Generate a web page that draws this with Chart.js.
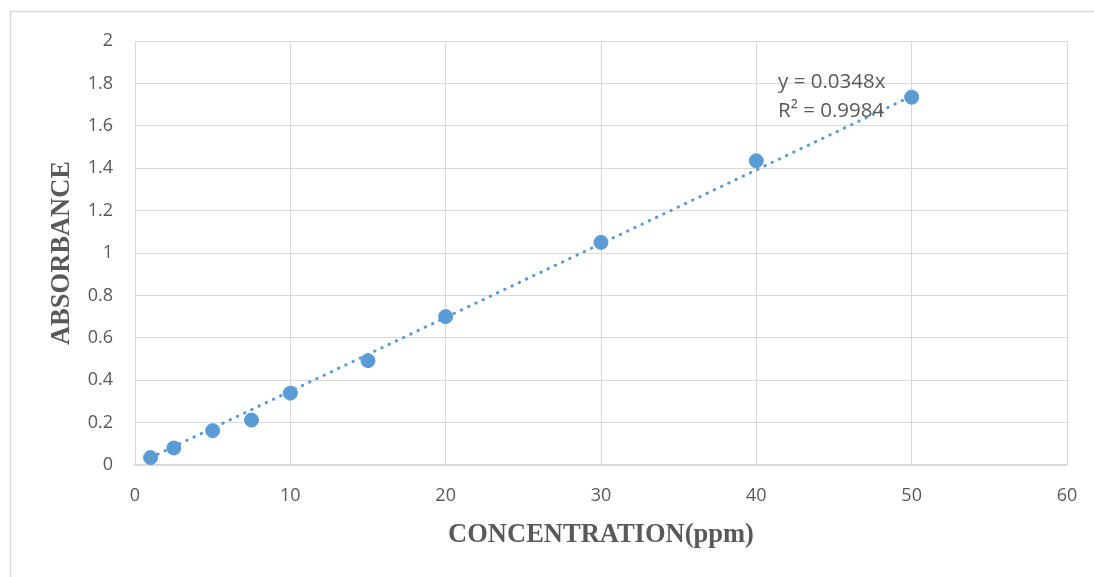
<!DOCTYPE html>
<html>
<head>
<meta charset="utf-8">
<script src="https://cdn.jsdelivr.net/npm/chart.js@4"></script>
<style>
  body { margin: 0; background: #fff; }
  #wrap { width: 1094px; height: 577px; }
</style>
</head>
<body>
<div id="wrap"><canvas id="chart" width="1094" height="577"></canvas></div>
<script>
// Data
const concentration = [1, 2.5, 5, 7.5, 10, 15, 20, 30, 40, 50];
const absorbance = [0.035, 0.08, 0.162, 0.212, 0.339, 0.492, 0.70, 1.05, 1.435, 1.735];
const trendX = [1, 50];
const trendY = [0.0348, 1.74];
const equationLines = ['y = 0.0348x', 'R\u00b2 = 0.9984'];

const blue = '#5B9BD5';
const textGrey = '#595959';
const gridGrey = '#d9d9d9';

// frame round the chart + trendline label
const extras = {
    id: 'extras',
    beforeDraw(chart) {
        const ctx = chart.ctx;
        ctx.save();
        ctx.fillStyle = '#fff';
        ctx.fillRect(0, 0, chart.width, chart.height);
        ctx.strokeStyle = gridGrey;
        ctx.lineWidth = 1.5;
        ctx.strokeRect(10.5, 11.5, chart.width, chart.height);
        ctx.restore();
    },
    afterDatasetsDraw(chart) {
        const ctx = chart.ctx;
        const x = chart.scales.x.getPixelForValue(41.4);
        ctx.save();
        ctx.font = '20.5px "Open Sans"';
        ctx.fillStyle = textGrey;
        ctx.textBaseline = 'middle';
        ctx.fillText(equationLines[0], x, chart.scales.y.getPixelForValue(1.808));
        ctx.fillText(equationLines[1], x, chart.scales.y.getPixelForValue(1.67));
        ctx.restore();
    }
};

const titleFont = { family: '"Liberation Serif"', size: 26.5, weight: 'bold' };

const ctx = document.getElementById('chart').getContext('2d');
new Chart(ctx, {
    type: 'scatter',
    data: {
        datasets: [{
            label: 'Absorbance',
            data: concentration.map((c, i) => ({ x: c, y: absorbance[i] })),
            backgroundColor: blue,
            borderColor: blue,
            pointRadius: 7,
            pointHoverRadius: 7,
            order: 1
        }, {
            type: 'line',
            label: 'Linear',
            data: trendX.map((c, i) => ({ x: c, y: trendY[i] })),
            borderColor: blue,
            borderWidth: 3,
            borderDash: [0.5, 7.5],
            borderCapStyle: 'round',
            pointRadius: 0,
            fill: false,
            order: 2
        }]
    },
    options: {
        responsive: false,
        animation: false,
        layout: { padding: { left: 10, top: 41, right: 27, bottom: 0 } },
        plugins: {
            legend: { display: false },
            tooltip: { enabled: false }
        },
        scales: {
            x: {
                type: 'linear',
                min: 0,
                max: 60,
                ticks: {
                    stepSize: 10,
                    padding: 20,
                    color: textGrey,
                    font: { family: '"Open Sans"', size: 18 }
                },
                grid: { color: gridGrey, drawTicks: false },
                border: { color: gridGrey, width: 1.5 },
                title: {
                    display: true,
                    text: 'CONCENTRATION(ppm)',
                    color: textGrey,
                    font: titleFont,
                    padding: { top: 0, bottom: 26 }
                },
                afterFit(scale) {
                    scale.height = 112;
                    scale.paddingLeft = 0;
                    scale.paddingRight = 0;
                }
            },
            y: {
                min: 0,
                max: 2,
                ticks: {
                    stepSize: 0.2,
                    padding: 22,
                    color: textGrey,
                    font: { family: '"Open Sans"', size: 18 },
                    callback: v => String(Number(v.toFixed(1)))
                },
                grid: { color: gridGrey, drawTicks: false },
                border: { color: gridGrey, width: 1 },
                title: {
                    display: true,
                    text: 'ABSORBANCE',
                    color: textGrey,
                    font: titleFont,
                    padding: { top: 36, bottom: 0 }
                },
                afterFit(scale) {
                    scale.width = 125;
                    scale.paddingTop = 0;
                    scale.paddingBottom = 0;
                }
            }
        }
    },
    plugins: [extras]
});
</script>
</body>
</html>
